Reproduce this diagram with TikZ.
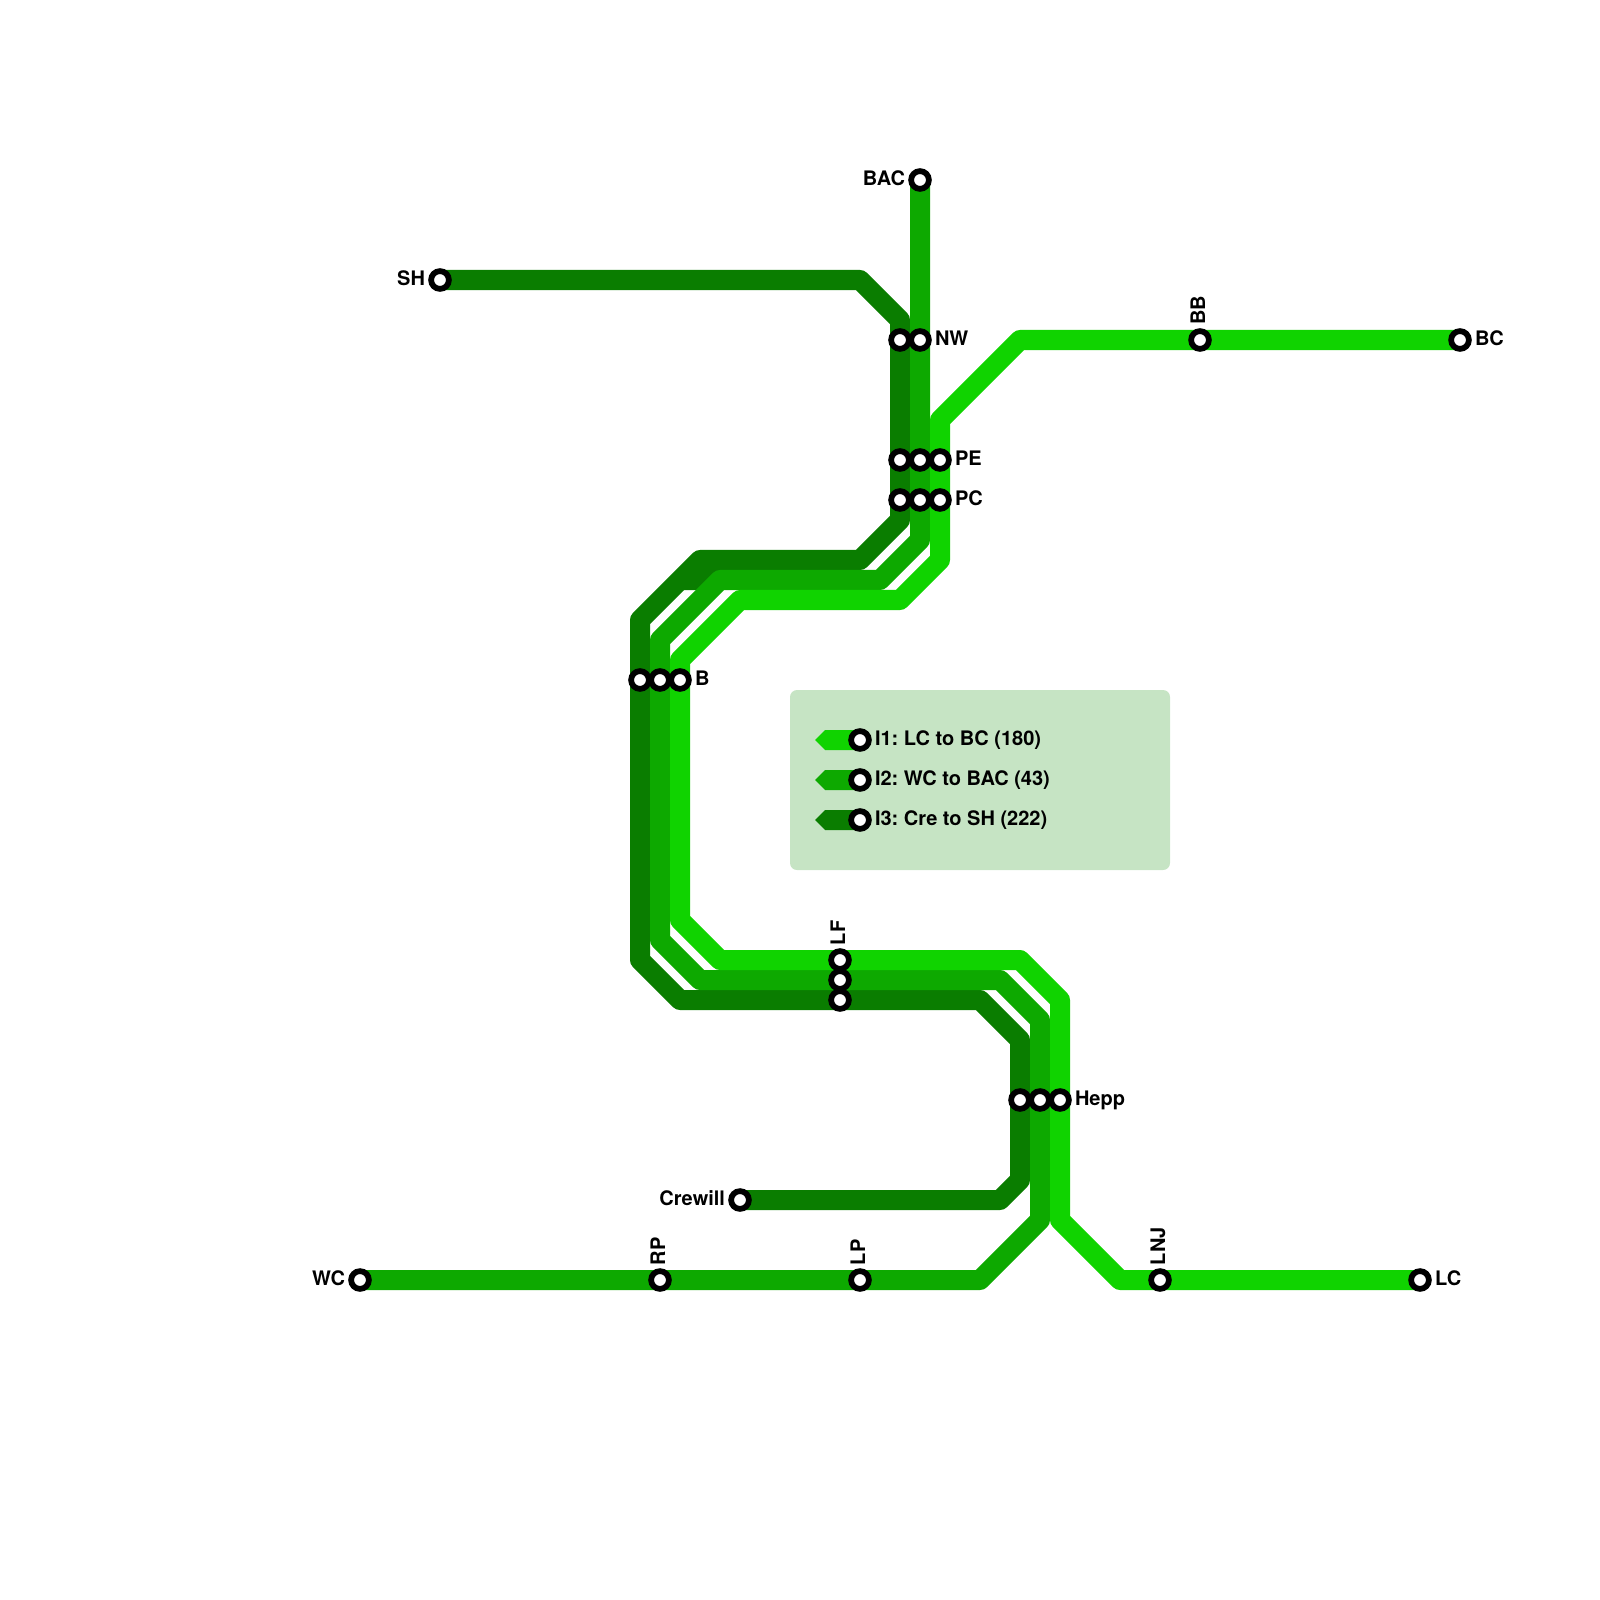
\documentclass[tikz,border=0pt]{standalone}
\usepackage{fontspec}
\setmainfont{TeX Gyre Heros}
\frenchspacing
\definecolor{lineOne}{RGB}{16,211,0}
\definecolor{lineTwo}{RGB}{13,169,0}
\definecolor{lineThree}{RGB}{10,125,0}
\definecolor{legendbg}{RGB}{198,228,196}
\tikzset{
  routeline/.style={line width=2mm, line join=round},
  stationdot/.style={circle, draw=black, fill=white, line width=0.575mm, minimum size=1.775mm, inner sep=0pt, outer sep=0pt},
  lbl/.style={font=\fontsize{5.69pt}{7pt}\selectfont\bfseries, inner sep=0pt, outer sep=0pt, text=black},
  lblright/.style={lbl, anchor=base west, xshift=0.15cm, yshift=-0.05cm},
  lblleft/.style={lbl, anchor=base east, xshift=-0.15cm, yshift=-0.05cm},
  lblup/.style={lbl, anchor=base west, xshift=0.05cm, yshift=0.15cm, rotate=90},
}
\begin{document}
\begin{tikzpicture}[x=0.01cm, y=-0.01cm]
  \useasboundingbox (0,0) rectangle (1600,1600);
  % station positions
  \foreach \nm/\x/\y in {LC/1420/1280, LNJ/1160/1280, Hepp/1060/1100, LF/840/960, B/680/680,
                         PC/940/500, PE/940/460, BB/1200/340, BC/1460/340,
                         WC/360/1280, RP/660/1280, LP/860/1280, HeppB/1040/1100, LFB/840/980,
                         BB2/660/680, PCB/920/500, PEB/920/460, NW/920/340, BAC/920/180,
                         SH/440/280, NWC/900/340, PEC/900/460, PCC/900/500, BC3/640/680,
                         LFC/840/1000, HeppC/1020/1100, Crewill/740/1200} {
    \coordinate (\nm) at (\x,\y);
  }

  % legend box
  \fill[legendbg, rounded corners=0.07cm] (790,690) rectangle (1170,870);

  % lines
  \draw[routeline, lineThree] (SH) -- (860,280) -- (900,320) -- (NWC) -- (PEC) -- (PCC) -- (900,520)
    -- (860,560) -- (700,560) -- (640,620) -- (BC3) -- (640,960) -- (680,1000) -- (LFC)
    -- (980,1000) -- (1020,1040) -- (HeppC) -- (1020,1180) -- (1000,1200) -- (Crewill);
  \draw[routeline, lineThree] (680,580) -- (700,580) -- (720,560);
  \draw[routeline, lineTwo] (WC) -- (RP) -- (LP) -- (980,1280) -- (1040,1220) -- (HeppB)
    -- (1040,1020) -- (1000,980) -- (LFB) -- (700,980) -- (660,940) -- (BB2) -- (660,640)
    -- (720,580) -- (880,580) -- (920,540) -- (PCB) -- (PEB) -- (NW) -- (BAC);
  \draw[routeline, lineOne] (LC) -- (LNJ) -- (1120,1280) -- (1060,1220) -- (Hepp) -- (1060,1000)
    -- (1020,960) -- (LF) -- (720,960) -- (680,920) -- (B) -- (680,660) -- (740,600)
    -- (900,600) -- (940,560) -- (PC) -- (PE) -- (940,420) -- (1020,340) -- (BB) -- (BC);

  % legend rows
  \foreach \nm/\y/\col/\txt in {LegOne/740/lineOne/I1: LC to BC (180),
                                LegTwo/780/lineTwo/I2: WC to BAC (43),
                                LegThree/820/lineThree/I3: Cre to SH (222)} {
    \fill[\col] (815,\y) -- (825,\y-10) -- (860,\y-10) -- (860,\y+10) -- (825,\y+10) -- cycle;
    \node[stationdot] (\nm) at (860,\y) {};
    \node[lbl, anchor=base west] (\nm-t) at (875,\y+5) {\txt};
  }

  % stations
  \foreach \nm in {LC, LNJ, Hepp, LF, B, PC, PE, BB, BC, WC, RP, LP, HeppB, LFB, BB2, PCB, PEB,
                   NW, BAC, SH, NWC, PEC, PCC, BC3, LFC, HeppC, Crewill} {
    \node[stationdot] (st-\nm) at (\nm) {};
  }

  % labels
  \foreach \nm/\txt in {NW/NW, PE/PE, PC/PC, BC/BC, LC/LC, B/B, Hepp/Hepp} {
    \node[lblright] (lb-\nm) at (\nm) {\txt};
  }
  \foreach \nm/\txt in {BAC/BAC, SH/SH, Crewill/Crewill, WC/WC} {
    \node[lblleft] (lb-\nm) at (\nm) {\txt};
  }
  \foreach \nm/\txt in {BB/BB, LF/LF, RP/RP, LP/LP, LNJ/LNJ} {
    \node[lblup] (lb-\nm) at (\nm) {\txt};
  }
\end{tikzpicture}
\end{document}
